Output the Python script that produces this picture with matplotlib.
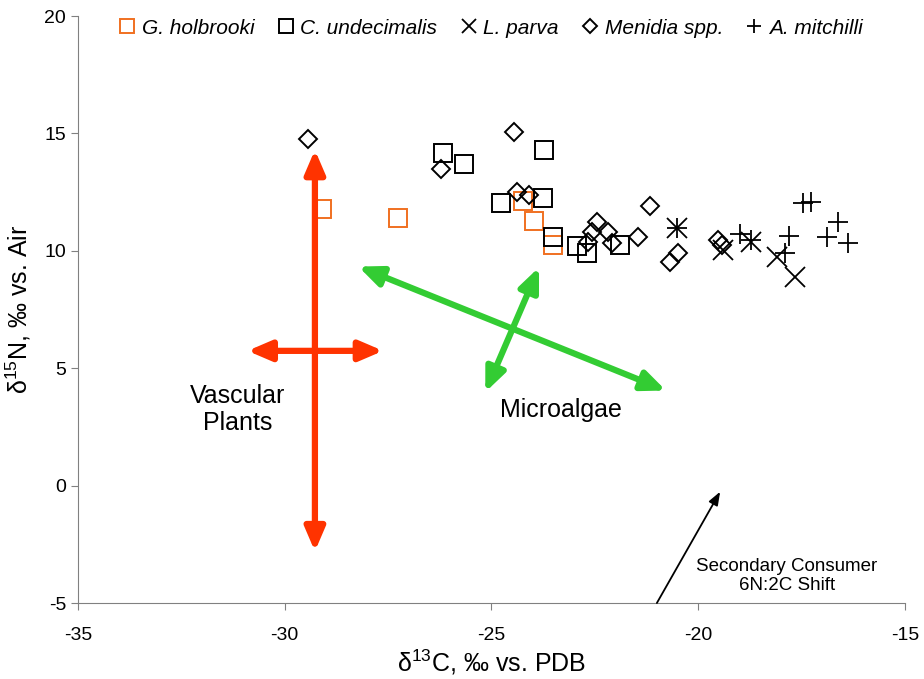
import matplotlib
matplotlib.use("Agg")
import matplotlib.pyplot as plt

plt.rcParams['font.family'] = ['Liberation Sans', 'DejaVu Sans']
plt.rcParams['mathtext.default'] = 'regular'
plt.rcParams['axes.unicode_minus'] = False

# data (d13C, d15N)
holbrooki_x = [-29.1, -27.26, -24.24, -23.97, -23.51]
holbrooki_y = [11.8, 11.4, 12.13, 11.28, 10.26]

undecimalis_x = [-26.17, -25.67, -23.73, -23.75, -24.77, -23.51, -22.93, -22.69, -21.89]
undecimalis_y = [14.17, 13.70, 14.30, 12.26, 12.04, 10.6, 10.21, 9.91, 10.26]

parva_x = [-20.51, -19.4, -18.72, -18.1, -17.66]
parva_y = [10.98, 10.04, 10.38, 9.74, 8.89]

menidia_x = [-29.44, -24.46, -26.22, -24.38, -24.09, -21.17, -22.45, -22.57, -22.18,
             -22.09, -22.67, -21.46, -20.68, -20.49, -19.52, -19.43]
menidia_y = [14.77, 15.06, 13.49, 12.51, 12.38, 11.91, 11.23, 10.8, 10.8,
             10.34, 10.38, 10.6, 9.53, 9.91, 10.47, 10.26]

mitchilli_x = [-20.51, -19.0, -18.72, -17.8, -17.9, -17.47, -17.27, -16.62, -16.89, -16.38]
mitchilli_y = [10.98, 10.72, 10.47, 10.64, 9.9, 12.04, 12.08, 11.23, 10.6, 10.34]

# source arrows: (x0, y0, x1, y1)
vascular_arrows = [(-29.27, -2.8, -29.27, 14.3), (-30.9, 5.74, -27.62, 5.74)]
algae_arrows = [(-20.78, 4.05, -28.22, 9.33), (-25.15, 3.98, -23.85, 9.3)]
shift_arrow = (-21.0, -5.0, -19.47, -0.26)

red = '#FF3300'
green = '#33CC33'
orange = '#F07020'

fig = plt.figure(figsize=(9.24, 6.79), dpi=100)
ax = fig.add_axes([0.0844, 0.1119, 0.895, 0.8645])

ax.plot(holbrooki_x, holbrooki_y, 's', ms=13, mfc='none', mec=orange, mew=1.4,
        label='G. holbrooki')
ax.plot(undecimalis_x, undecimalis_y, 's', ms=13, mfc='none', mec='black', mew=1.4,
        label='C. undecimalis')
ax.plot(parva_x, parva_y, 'x', ms=14, mec='black', mew=1.3, label='L. parva')
ax.plot(menidia_x, menidia_y, 'D', ms=9.5, mfc='none', mec='black', mew=1.4,
        label='Menidia spp.')
ax.plot(mitchilli_x, mitchilli_y, '+', ms=14, mec='black', mew=1.3, label='A. mitchilli')

def arrow(x0, y0, x1, y1, color, lw, style):
    ax.annotate('', xy=(x1, y1), xytext=(x0, y0),
                arrowprops=dict(arrowstyle=style, color=color, lw=lw,
                                shrinkA=0, shrinkB=0, mutation_scale=20))

for a in vascular_arrows:
    arrow(*a, red, 4.5, '<|-|>,head_length=0.7,head_width=0.3')
for a in algae_arrows:
    arrow(*a, green, 4.5, '<|-|>,head_length=0.7,head_width=0.3')
arrow(*shift_arrow, 'black', 1.3, '-|>,head_length=0.4,head_width=0.15')

ax.text(-31.13, 3.23, 'Vascular\nPlants', ha='center', va='center', fontsize=18,
        linespacing=1.15)
ax.text(-23.32, 3.23, 'Microalgae', ha='center', va='center', fontsize=18)
ax.text(-17.85, -3.85, 'Secondary Consumer\n6N:2C Shift', ha='center', va='center',
        fontsize=13.5, linespacing=1.15)

ax.set_xlim(-35, -15)
ax.set_ylim(-5, 20)
ax.set_xticks([-35, -30, -25, -20, -15])
ax.set_yticks([-5, 0, 5, 10, 15, 20])
ax.tick_params(direction='out', length=5, color='#808080', labelsize=14)
ax.tick_params(axis='x', pad=12)
for s in ['top', 'right']:
    ax.spines[s].set_visible(False)
for s in ['left', 'bottom']:
    ax.spines[s].set_color('#808080')
ax.set_xlabel(r'$\delta^{13}$C, ‰ vs. PDB', fontsize=18, labelpad=3)
ax.set_ylabel(r'$\delta^{15}$N, ‰ vs. Air', fontsize=18, labelpad=8)

leg = fig.legend(loc='upper center', bbox_to_anchor=(0.53, 1.0), ncol=5, frameon=False,
                 prop={'style': 'italic', 'size': 15}, handletextpad=0.2,
                 columnspacing=1.0, markerscale=0.75, handlelength=1.0)

fig.savefig('out.png', dpi=100)
